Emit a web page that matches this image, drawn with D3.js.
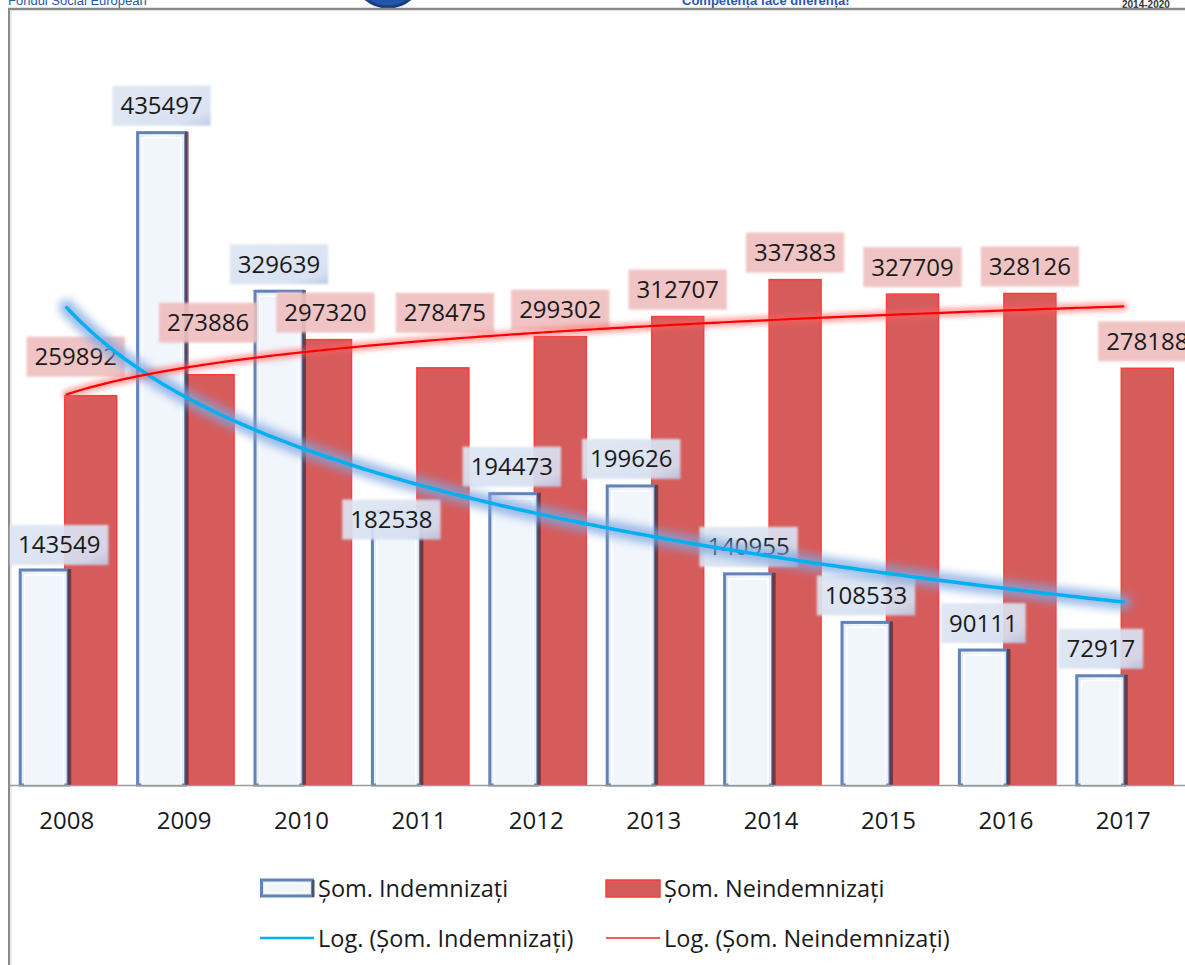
<!DOCTYPE html>
<html>
<head>
<meta charset="utf-8">
<script src="https://cdn.jsdelivr.net/npm/d3@7/dist/d3.min.js"></script>
<style>
  html, body { margin: 0; padding: 0; background: #fff; }
  svg { display: block; }
  text { font-family: "Open Sans", "Noto Sans", sans-serif; }
</style>
</head>
<body>
<svg id="chart" width="1185" height="965"></svg>
<script>
// ---------- data ----------
const years = ["2008","2009","2010","2011","2012","2013","2014","2015","2016","2017"];
const indemnizati = [143549, 435497, 329639, 182538, 194473, 199626, 140955, 108533, 90111, 72917];
const neindemnizati = [259892, 273886, 297320, 278475, 299302, 312707, 337383, 327709, 328126, 278188];
const seriesNames = ["Șom. Indemnizați", "Șom. Neindemnizați"];
const trendNames = ["Log. (Șom. Indemnizați)", "Log. (Șom. Neindemnizați)"];
// manual label nudges (pixels) as placed in the original chart
const blueLabelNudge = [[15,2],[0,0],[0,0],[-5,35],[-2,0],[0,0],[0,0],[0,0],[0,0],[0,0]];
const redLabelNudge  = [[-15,-12],[0,-25],[0,0],[2,-28],[0,0],[0,0],[0,0],[0,0],[0,0],[0,0]];

// ---------- layout ----------
const svg = d3.select("#chart");
const W = 1185, H = 965;
const baseY = 785;
const FS = 24;
const x = d3.scaleBand().domain(years).range([8, 1182]).paddingInner(0).paddingOuter(0);
const inner = d3.scaleBand().domain(["ind","nei"]).range([-48, 50]);
const y = d3.scaleLinear().domain([0, 500000]).range([baseY, 36]);
const cx = i => x(years[i]) + x.bandwidth() / 2;
const blueX = i => cx(i) + inner("ind"), blueW = inner.bandwidth() + 2;
const redX = i => cx(i) + inner("nei") - 3, redW = inner.bandwidth() + 3;

const defs = svg.append("defs");
const fBlur = defs.append("filter").attr("id","glowBlue").attr("x","-20%").attr("y","-50%").attr("width","140%").attr("height","200%");
fBlur.append("feGaussianBlur").attr("stdDeviation", 4);
const fBlurR = defs.append("filter").attr("id","glowRed").attr("x","-20%").attr("y","-50%").attr("width","140%").attr("height","200%");
fBlurR.append("feGaussianBlur").attr("stdDeviation", 2.5);
const fSoft = defs.append("filter").attr("id","soft").attr("x","-10%").attr("y","-20%").attr("width","120%").attr("height","140%");
fSoft.append("feGaussianBlur").attr("stdDeviation", 0.8);
const gBar = defs.append("linearGradient").attr("id","blueFill").attr("x1","0").attr("x2","1");
gBar.append("stop").attr("offset","0").attr("stop-color","#e4ecf8");
gBar.append("stop").attr("offset","0.5").attr("stop-color","#f3f7fd");
gBar.append("stop").attr("offset","1").attr("stop-color","#e6edf8");
const gLab = defs.append("linearGradient").attr("id","blueLab").attr("x1","0").attr("y1","0").attr("x2","1").attr("y2","1");
gLab.append("stop").attr("offset","0").attr("stop-color","#dfe6f3");
gLab.append("stop").attr("offset","0.8").attr("stop-color","#d7e0f1");
gLab.append("stop").attr("offset","1").attr("stop-color","#b9c8e6");

// ---------- header (cropped page header) ----------
const hdrFont = "Liberation Sans, Arial, sans-serif";
svg.append("text").attr("x", 8).attr("y", 5).style("font-family", hdrFont)
  .attr("font-size", 13).attr("fill", "#2a56a5").text("Fondul Social European");
svg.append("ellipse").attr("cx", 388).attr("cy", -24).attr("rx", 33).attr("ry", 31)
  .attr("fill", "#2456a8").attr("stroke", "#163c86").attr("stroke-width", 3);
svg.append("text").attr("x", 682).attr("y", 5).style("font-family", hdrFont)
  .attr("font-size", 13).attr("font-weight", "bold").attr("fill", "#2a56b5").text("Competența face diferența!");
svg.append("text").attr("x", 1122).attr("y", 8).style("font-family", hdrFont)
  .attr("font-size", 10).attr("font-weight", "bold").attr("fill", "#333").text("2014-2020");

// frame
svg.append("line").attr("x1", 8).attr("x2", W).attr("y1", 9).attr("y2", 9).attr("stroke", "#8a8a8a").attr("stroke-width", 2.5);
svg.append("line").attr("x1", 9).attr("x2", 9).attr("y1", 9).attr("y2", H).attr("stroke", "#8a8a8a").attr("stroke-width", 2);
svg.append("line").attr("x1", 11).attr("x2", 11).attr("y1", 11).attr("y2", H).attr("stroke", "#d8d8d8").attr("stroke-width", 1);

// ---------- bars ----------
const gBars = svg.append("g");
gBars.selectAll("rect.nei").data(neindemnizati).join("rect").attr("class","nei")
  .attr("x", (d,i) => redX(i))
  .attr("y", d => y(d))
  .attr("width", redW)
  .attr("height", d => baseY - y(d))
  .attr("fill", "#d65c5c").attr("stroke", "#ff3b3b").attr("stroke-width", 1.5);
const blueG = gBars.selectAll("g.ind").data(indemnizati).join("g").attr("class","ind");
blueG.append("rect")
  .attr("x", (d,i) => blueX(i) + 1.5)
  .attr("y", d => y(d))
  .attr("width", blueW - 3)
  .attr("height", d => baseY - y(d))
  .attr("fill", "url(#blueFill)").attr("stroke", "#6283b8").attr("stroke-width", 3);
blueG.append("rect")
  .attr("x", (d,i) => blueX(i) + 6)
  .attr("y", d => y(d) + 5)
  .attr("width", blueW - 12)
  .attr("height", d => Math.max(0, baseY - y(d) - 5))
  .attr("fill", "#f1f5fc").attr("stroke", "#ffffff").attr("stroke-width", 1.5);
blueG.append("rect")
  .attr("x", (d,i) => blueX(i) + blueW - 2)
  .attr("y", d => y(d) - 1)
  .attr("width", 3.5)
  .attr("height", d => baseY - y(d) + 1)
  .attr("fill", "#5a2a32").attr("opacity", 0.75);

// baseline
svg.append("line").attr("x1", 9).attr("x2", W).attr("y1", baseY + 0.5).attr("y2", baseY + 0.5)
  .attr("stroke", "#9a9a9a").attr("stroke-width", 1.5);

// ---------- axis ----------
const axis = d3.axisBottom(x).tickSize(0).tickPadding(27);
const gAx = svg.append("g").attr("transform", `translate(0,${baseY})`).call(axis);
gAx.select(".domain").remove();
gAx.selectAll("text").attr("font-size", FS).attr("fill", "#1a1a1a").style("font-family", "\"Open Sans\", sans-serif");

// ---------- data labels ----------
function drawLabels(values, nudges, xf, w, boxFill) {
  const g = svg.append("g");
  values.forEach((v, i) => {
    const c = xf(i) + w / 2 + nudges[i][0];
    const bottom = y(v) - 7 + nudges[i][1];
    const lg = g.append("g");
    const box = lg.append("rect");
    const t = lg.append("text").attr("x", c).attr("y", bottom - 11.5)
      .attr("text-anchor", "middle").attr("font-size", FS).attr("fill", "#1a1a1a").text(v);
    const tw = t.node().getComputedTextLength();
    box.attr("x", c - tw / 2 - 8).attr("y", bottom - 40).attr("width", tw + 16).attr("height", 40)
      .attr("fill", boxFill).attr("opacity", 0.92).attr("filter", "url(#soft)");
  });
}
drawLabels(indemnizati, blueLabelNudge, blueX, blueW, "url(#blueLab)");
drawLabels(neindemnizati, redLabelNudge, redX, redW, "#efbfbf");

// ---------- logarithmic trendlines ----------
function logFit(vals) {
  const xs = vals.map((d, i) => Math.log(i + 1));
  const mx = d3.mean(xs), my = d3.mean(vals);
  let sxy = 0, sxx = 0;
  xs.forEach((xv, i) => { sxy += (xv - mx) * (vals[i] - my); sxx += (xv - mx) * (xv - mx); });
  const b = sxy / sxx, a = my - b * mx;
  return t => a + b * Math.log(t);
}
const tx = d3.scaleLinear().domain([1, years.length]).range([cx(0), cx(years.length - 1)]);
const tSteps = d3.range(1, years.length + 0.001, 0.05);
function trendPath(fn) {
  return d3.line().x(t => tx(t)).y(t => y(fn(t)))(tSteps);
}
const fBlue = logFit(indemnizati), fRed = logFit(neindemnizati);
const gTrend = svg.append("g").attr("fill", "none").attr("stroke-linecap", "round");
gTrend.append("path").attr("d", trendPath(fBlue)).attr("stroke", "#7ea6e0").attr("stroke-width", 16)
  .attr("opacity", 0.75).attr("filter", "url(#glowBlue)");
gTrend.append("path").attr("d", trendPath(fRed)).attr("stroke", "#ff6060").attr("stroke-width", 9)
  .attr("opacity", 0.55).attr("filter", "url(#glowRed)");
gTrend.append("path").attr("d", trendPath(fBlue)).attr("stroke", "#00b0f0").attr("stroke-width", 3.5);
gTrend.append("path").attr("d", trendPath(fRed)).attr("stroke", "#ff0000").attr("stroke-width", 2.2);

// ---------- legend ----------
const lg = svg.append("g");
const legX = [260, 606], row1 = 888, row2 = 938;
lg.append("rect").attr("x", legX[0] + 1.5).attr("y", row1 - 8).attr("width", 51).attr("height", 16)
  .attr("fill", "url(#blueFill)").attr("stroke", "#6283b8").attr("stroke-width", 3);
lg.append("rect").attr("x", legX[0] + 5).attr("y", row1 - 4.5).attr("width", 44).attr("height", 9)
  .attr("fill", "#f1f5fc").attr("stroke", "#fff").attr("stroke-width", 1);
lg.append("rect").attr("x", legX[0] + 52).attr("y", row1 - 8).attr("width", 2.5).attr("height", 17).attr("fill", "#44546a");
lg.append("rect").attr("x", legX[1]).attr("y", row1 - 8).attr("width", 54).attr("height", 17)
  .attr("fill", "#d65c5c").attr("stroke", "#ff3b3b").attr("stroke-width", 1.5);
lg.append("line").attr("x1", legX[0]).attr("x2", legX[0] + 54).attr("y1", row2).attr("y2", row2)
  .attr("stroke", "#00b0f0").attr("stroke-width", 2.5);
lg.append("line").attr("x1", legX[1]).attr("x2", legX[1] + 54).attr("y1", row2).attr("y2", row2)
  .attr("stroke", "#ff2020").attr("stroke-width", 1.5);
[[seriesNames[0], legX[0], row1], [seriesNames[1], legX[1], row1],
 [trendNames[0], legX[0], row2], [trendNames[1], legX[1], row2]].forEach(([txt, lx, ly]) => {
  lg.append("text").attr("x", lx + 58).attr("y", ly + 8.5).attr("font-size", 23.5).attr("fill", "#1a1a1a").text(txt);
});
</script>
</body>
</html>
